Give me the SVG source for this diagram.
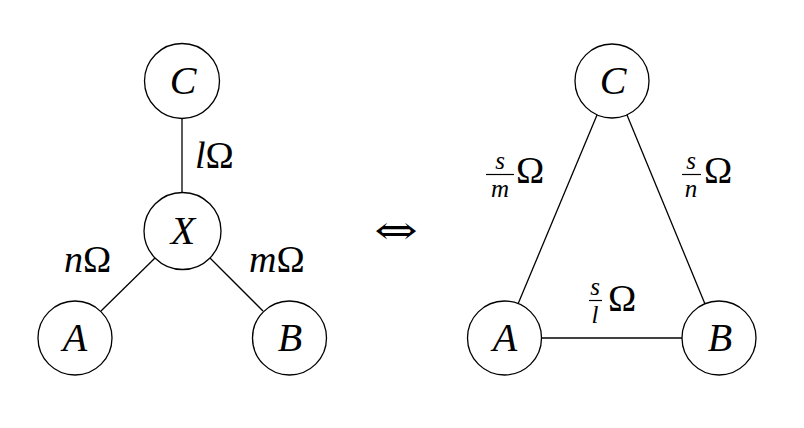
<svg xmlns="http://www.w3.org/2000/svg" width="804" height="428" viewBox="0 0 804 428">
<style>
.node circle{fill:#fff;stroke:#000;stroke-width:1.3}
.node text{font-family:"Liberation Serif",serif;font-style:italic;font-size:40px;text-anchor:middle}
.edges line{stroke:#000;stroke-width:1.3}
.lbl{font-family:"Liberation Serif",serif;font-size:38px}
.lbl .v{font-style:italic}
.fr{font-family:"Liberation Serif",serif;font-size:25px;font-style:italic;text-anchor:middle}
.bar{stroke:#000;stroke-width:1.2}
</style>
<rect width="804" height="428" fill="#fff"/>
<g class="edges">
<line x1="182" y1="118" x2="182" y2="192"/>
<line x1="155" y1="258" x2="101" y2="311"/>
<line x1="210" y1="258" x2="263" y2="311"/>
<line x1="597" y1="115" x2="518" y2="304"/>
<line x1="627" y1="115" x2="705" y2="304"/>
<line x1="542" y1="338" x2="682" y2="338"/>
</g>
<g id="star-C" class="node"><circle cx="182" cy="81" r="37.5"/><text x="183" y="94">C</text></g>
<g id="star-X" class="node"><circle cx="182.5" cy="231" r="38.5"/><text x="183" y="244">X</text></g>
<g id="star-A" class="node"><circle cx="75" cy="338" r="37"/><text x="75" y="351">A</text></g>
<g id="star-B" class="node"><circle cx="289.5" cy="338" r="37"/><text x="290" y="351">B</text></g>
<g id="delta-C" class="node"><circle cx="612" cy="81" r="37"/><text x="613" y="94">C</text></g>
<g id="delta-A" class="node"><circle cx="504.5" cy="338" r="37"/><text x="505" y="351">A</text></g>
<g id="delta-B" class="node"><circle cx="719" cy="338" r="37"/><text x="720" y="351">B</text></g>
<g id="labels">
<text class="lbl" x="195" y="168"><tspan class="v">l</tspan>Ω</text>
<text class="lbl" x="64" y="272"><tspan class="v">n</tspan>Ω</text>
<text class="lbl" x="249" y="272"><tspan class="v">m</tspan>Ω</text>
<g id="lbl-sm">
<text class="fr" x="500" y="169">s</text>
<line class="bar" x1="486" y1="174.5" x2="514" y2="174.5"/>
<text class="fr" x="500" y="197">m</text>
<text class="lbl" x="516" y="183">Ω</text>
</g>
<g id="lbl-sn">
<text class="fr" x="691" y="169">s</text>
<line class="bar" x1="682" y1="174.5" x2="701" y2="174.5"/>
<text class="fr" x="691" y="197">n</text>
<text class="lbl" x="704" y="183">Ω</text>
</g>
<g id="lbl-sl">
<text class="fr" x="595" y="295">s</text>
<line class="bar" x1="589" y1="300.5" x2="602" y2="300.5"/>
<text class="fr" x="595" y="323">l</text>
<text class="lbl" x="608" y="311">Ω</text>
</g>
<text transform="translate(396 244) scale(1.3 1)" font-family="DejaVu Serif,serif" font-size="40" text-anchor="middle">⇔</text>
</g>
</svg>
